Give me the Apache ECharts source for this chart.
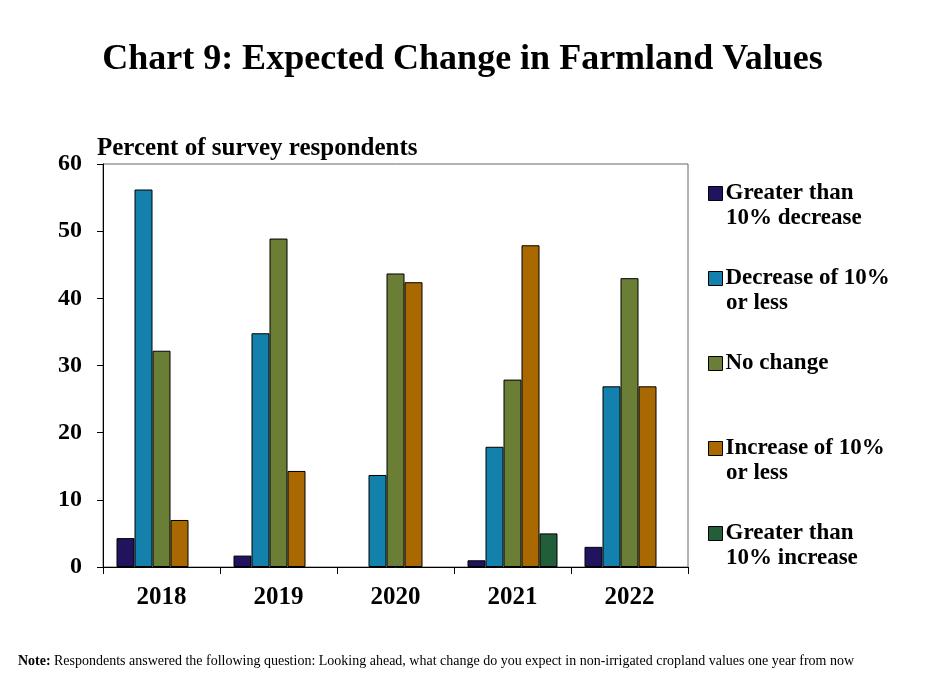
<!DOCTYPE html>
<html>
<head>
<meta charset="utf-8">
<script src="https://cdn.jsdelivr.net/npm/echarts@6/dist/echarts.min.js"></script>
<style>
  html, body { margin: 0; padding: 0; background: #fff; }
  #chart { width: 925px; height: 693px; }
</style>
</head>
<body>
<div id="chart"></div>
<script>
// survey data
var years = ['2018', '2019', '2020', '2021', '2022'];
var bigDecrease = [4.3, 1.7, '-', 1.0, 3.0];
var smallDecrease = [56.2, 34.8, 13.7, 17.9, 26.9];
var noChange = [32.2, 48.9, 43.7, 27.9, 43.0];
var smallIncrease = [7.0, 14.3, 42.4, 47.9, 26.9];
var bigIncrease = ['-', '-', '-', 5.0, '-'];
var legendFirst = ['Greater than', 'Decrease of 10%', 'No change', 'Increase of 10%', 'Greater than'];
var legendSecond = ['10% decrease', 'or less', '', 'or less', '10% increase'];
var colors = ['#22135E', '#1381AB', '#6A7F35', '#A96800', '#235E3A'];

var serif = '"Liberation Serif", "Times New Roman", serif';
var myChart = echarts.init(document.getElementById('chart'));

var seriesData = [bigDecrease, smallDecrease, noChange, smallIncrease, bigIncrease];
var series = [];
for (var i = 0; i < seriesData.length; i++) {
  series.push({
    name: legendFirst[i] + (i == 4 ? ' ' : ''),
    type: 'bar',
    data: seriesData[i],
    barWidth: 18,
    barGap: '0%',
    itemStyle: { color: colors[i], borderColor: '#000', borderWidth: 1 }
  });
}

var secondLines = [];
for (var j = 0; j < legendSecond.length; j++) {
  if (!legendSecond[j]) continue;
  secondLines.push({
    type: 'text',
    left: 726,
    top: 207 + j * 85,
    style: { text: legendSecond[j], font: 'bold 23px ' + serif, fill: '#000' }
  });
}

var option = {
  animation: false,
  color: colors,
  title: [{
    text: 'Chart 9: Expected Change in Farmland Values',
    left: 'center',
    top: 37,
    textStyle: { fontFamily: serif, fontWeight: 'bold', fontSize: 36, color: '#000' }
  }],
  legend: {
    orient: 'vertical',
    left: 703,
    top: 176,
    itemGap: 60,
    itemWidth: 14,
    itemHeight: 14,
    icon: 'rect',
    data: series.map(function (s) { return s.name; }),
    textStyle: { fontFamily: serif, fontWeight: 'bold', fontSize: 23, lineHeight: 25, color: '#000', padding: [0, 0, 0, -2] },
    itemStyle: { borderColor: '#000', borderWidth: 1 }
  },
  grid: {
    left: 103, right: 237, top: 164, bottom: 126,
    show: true, borderColor: '#666', borderWidth: 1
  },
  xAxis: {
    type: 'category',
    data: years,
    axisLine: { lineStyle: { color: '#000', width: 1 } },
    axisTick: { show: true, length: 7, lineStyle: { color: '#000' } },
    axisLabel: { fontFamily: serif, fontWeight: 'bold', fontSize: 25, color: '#000', margin: 18 }
  },
  yAxis: {
    type: 'value',
    min: 0, max: 60, interval: 10,
    name: 'Percent of survey respondents',
    nameLocation: 'end',
    nameGap: 3,
    nameTextStyle: { fontFamily: serif, fontWeight: 'bold', fontSize: 25, color: '#000', align: 'left', padding: [0, 0, 0, -6] },
    axisLine: { show: true, lineStyle: { color: '#000', width: 1 } },
    axisTick: { show: true, length: 6, lineStyle: { color: '#000' } },
    splitLine: { show: false },
    axisLabel: { fontFamily: serif, fontWeight: 'bold', fontSize: 24, color: '#000', margin: 21 }
  },
  graphic: secondLines.concat([{
    type: 'text',
    left: 18,
    top: 654,
    style: {
      rich: {
        b: { font: 'bold 14px ' + serif, fill: '#000' },
        n: { font: '14px ' + serif, fill: '#000' }
      },
      text: '{b|Note:} {n|Respondents answered the following question: Looking ahead, what change do you expect in non-irrigated cropland values one year from now}'
    }
  }]),
  series: series
};

option && myChart.setOption(option);
</script>
</body>
</html>
